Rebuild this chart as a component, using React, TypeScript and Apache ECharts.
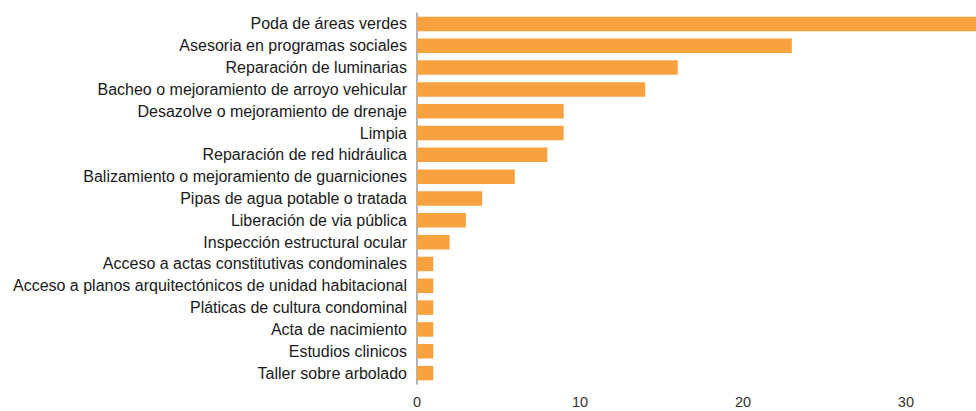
import React, { useEffect, useRef } from "react";
import * as echarts from "echarts";

const categories = [
  "Poda de áreas verdes",
  "Asesoria en programas sociales",
  "Reparación de luminarias",
  "Bacheo o mejoramiento de arroyo vehicular",
  "Desazolve o mejoramiento de drenaje",
  "Limpia",
  "Reparación de red hidráulica",
  "Balizamiento o mejoramiento de guarniciones",
  "Pipas de agua potable o tratada",
  "Liberación de via pública",
  "Inspección estructural ocular",
  "Acceso a actas constitutivas condominales",
  "Acceso a planos arquitectónicos de unidad habitacional",
  "Pláticas de cultura condominal",
  "Acta de nacimiento",
  "Estudios clinicos",
  "Taller sobre arbolado",
];

const values = [35, 23, 16, 14, 9, 9, 8, 6, 4, 3, 2, 1, 1, 1, 1, 1, 1];

const tickValues = [0, 10, 20, 30];

export default function App() {
  const ref = useRef<HTMLDivElement>(null);
  useEffect(() => {
    if (!ref.current) return;
    const chart = echarts.init(ref.current, null, { renderer: "svg" });
    chart.setOption({
      animation: false,
      backgroundColor: "#ffffff",
      grid: { left: 417, right: 0, top: 13, bottom: 27, containLabel: false },
      xAxis: {
        type: "value",
        min: 0,
        max: 34.3,
        interval: 10,
        axisLine: { show: false },
        axisTick: { show: false },
        splitLine: { show: false },
        axisLabel: {
          showMaxLabel: false,
          margin: 10,
          fontSize: 14.5,
          color: "#333333",
          fontFamily: "Liberation Sans, Arial, sans-serif",
          formatter: (v: number) => (tickValues.includes(v) ? String(v) : ""),
        },
      },
      yAxis: {
        type: "category",
        data: categories,
        inverse: true,
        axisLine: { show: true, lineStyle: { color: "#9a9a9a", width: 1.5 } },
        axisTick: { show: false },
        splitLine: { show: false },
        axisLabel: {
          margin: 10,
          fontSize: 16,
          color: "#1a1a1a",
          fontFamily: "Liberation Sans, Arial, sans-serif",
        },
      },
      series: [
        {
          type: "bar",
          data: values,
          barWidth: 14.5,
          clip: true,
          itemStyle: { color: "#F7A23F" },
        },
      ],
    });
    return () => chart.dispose();
  }, []);
  return (
    <div
      ref={ref}
      style={{ position: "absolute", left: 0, top: 0, width: 976, height: 411 }}
    />
  );
}
